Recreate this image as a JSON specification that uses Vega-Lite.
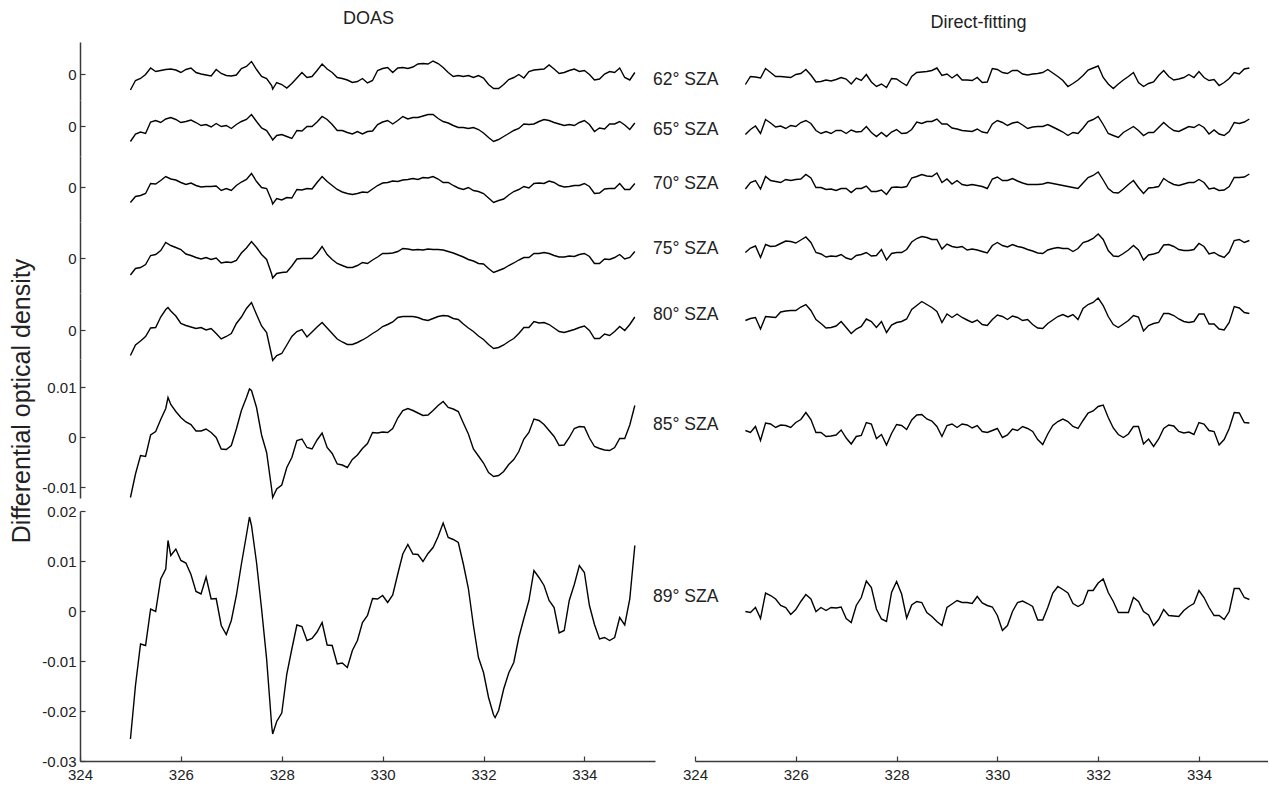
{
  "$schema": "https://vega.github.io/schema/vega-lite/v6.json",
  "background": "white",
  "padding": {"left": 9, "top": 10, "right": 0, "bottom": 0},
  "autosize": {"type": "pad"},
  "spacing": -3,
  "title": {"text": "Differential optical density", "orient": "left", "anchor": "middle", "fontSize": 25, "fontWeight": "normal", "color": "#222", "offset": 7, "dx": -5},
  "resolve": {"scale": {"x": "independent", "y": "independent"}},
  "config": {
    "font": "Liberation Sans",
    "view": {"stroke": null},
    "axis": {"domainColor": "#3a3a3a", "domainWidth": 1.5, "tickColor": "#3a3a3a", "tickWidth": 1.2, "tickSize": -5, "labelPadding": 9, "labelFontSize": 15, "labelColor": "#222", "grid": false, "title": null, "labelFont": "Liberation Sans", "labelFlush": false},
    "axisX": {"labelPadding": 11},
    "title": {"font": "Liberation Sans", "fontWeight": "normal", "color": "#222"}
  },
  "datasets": {
    "t": [
      {"x":325,"a62":-0.0032,"a65":-0.0031,"a70":-0.0031,"a75":-0.0034,"a80":-0.0051,"a85":-0.0121,"a89":-0.0256,"b62":-0.0021,"b65":-0.0017,"b70":-0.0004,"b75":0.0011,"b80":0.0019,"b85":0.0013,"b89":-0.0001},
      {"x":325.1,"a62":-0.0013,"a65":-0.0016,"a70":-0.0019,"a75":-0.0021,"a80":-0.0030,"a85":-0.0074,"a89":-0.0149,"b62":-0.0005,"b65":-0.0007,"b70":0.0009,"b75":0.0020,"b80":0.0023,"b85":0.0009,"b89":-0.0003},
      {"x":325.2,"a62":-0.0009,"a65":-0.0012,"a70":-0.0017,"a75":-0.0019,"a80":-0.0022,"a85":-0.0037,"a89":-0.0066,"b62":-0.0006,"b65":0,"b70":0.0013,"b75":0.0024,"b80":0.0025,"b85":0.0021,"b89":0.0007},
      {"x":325.3,"a62":-0.0001,"a65":-0.0015,"a70":-0.0013,"a75":-0.0013,"a80":-0.0013,"a85":-0.0039,"a89":-0.0069,"b62":-0.0008,"b65":-0.0015,"b70":-0.0004,"b75":0.0001,"b80":0.0002,"b85":-0.0007,"b89":-0.0015},
      {"x":325.4,"a62":0.0012,"a65":0.0008,"a70":0.0007,"a75":0.0005,"a80":0.0004,"a85":0.0004,"a89":0.0004,"b62":0.0011,"b65":0.0013,"b70":0.0021,"b75":0.0027,"b80":0.0027,"b85":0.0028,"b89":0.0036},
      {"x":325.5,"a62":0.0005,"a65":0.0011,"a70":0.0006,"a75":0.0007,"a80":0.0005,"a85":0.0011,"a89":-0.0001,"b62":0.0003,"b65":0.0006,"b70":0.0013,"b75":0.0023,"b80":0.0026,"b85":0.0026,"b89":0.0031},
      {"x":325.6,"a62":0.0007,"a65":0.0007,"a70":0.0013,"a75":0.0015,"a80":0.0026,"a85":0.0035,"a89":0.0064,"b62":-0.0005,"b65":-0.0002,"b70":0.0011,"b75":0.0024,"b80":0.0025,"b85":0.0019,"b89":0.0024},
      {"x":325.7,"a62":0.0009,"a65":0.0014,"a70":0.0021,"a75":0.0031,"a80":0.0041,"a85":0.0057,"a89":0.0084,"b62":-0.0005,"b65":0,"b70":0.0009,"b75":0.0029,"b80":0.0036,"b85":0.0024,"b89":0.0011},
      {"x":325.8,"a62":0.0010,"a65":0.0017,"a70":0.0016,"a75":0.0025,"a80":0.0038,"a85":0.0065,"a89":0.0111,"b62":-0.0006,"b65":-0.0005,"b70":0.0015,"b75":0.0034,"b80":0.0038,"b85":0.0023,"b89":0.0007},
      {"x":325.9,"a62":0.0008,"a65":0.0013,"a70":0.0014,"a75":0.0021,"a80":0.0028,"a85":0.0051,"a89":0.0124,"b62":-0.0007,"b65":0.0001,"b70":0.0013,"b75":0.0033,"b80":0.0039,"b85":0.0019,"b89":-0.0007},
      {"x":326,"a62":0.0003,"a65":0.0007,"a70":0.0009,"a75":0.0017,"a80":0.0013,"a85":0.0039,"a89":0.0101,"b62":-0.0001,"b65":-0.0001,"b70":0.0015,"b75":0.0030,"b80":0.0039,"b85":0.0029,"b89":0.0003},
      {"x":326.1,"a62":0.0009,"a65":0.0009,"a70":0.0005,"a75":0.0008,"a80":0.0009,"a85":0.0030,"a89":0.0096,"b62":0.0001,"b65":0.0007,"b70":0.0016,"b75":0.0036,"b80":0.0046,"b85":0.0035,"b89":0.0019},
      {"x":326.2,"a62":0.0012,"a65":0.0012,"a70":0.0008,"a75":0.0005,"a80":0.0006,"a85":0.0025,"a89":0.0073,"b62":0.0009,"b65":0.0011,"b70":0.0025,"b75":0.0042,"b80":0.0051,"b85":0.0049,"b89":0.0033},
      {"x":326.3,"a62":0.0003,"a65":0.0007,"a70":0.0003,"a75":0.0001,"a80":0.0003,"a85":0.0012,"a89":0.0039,"b62":-0.0002,"b65":0.0005,"b70":0.0018,"b75":0.0031,"b80":0.0039,"b85":0.0035,"b89":0.0024},
      {"x":326.4,"a62":0,"a65":0.0001,"a70":0,"a75":-0.0002,"a80":0.0005,"a85":0.0012,"a89":0.0034,"b62":-0.0016,"b65":-0.0009,"b70":-0.0001,"b75":0.0011,"b80":0.0021,"b85":0.0009,"b89":-0.0001},
      {"x":326.5,"a62":-0.0002,"a65":0.0003,"a70":0.0001,"a75":0.0001,"a80":0,"a85":0.0016,"a89":0.0068,"b62":-0.0015,"b65":-0.0015,"b70":-0.0001,"b75":0.0008,"b80":0.0013,"b85":0.0009,"b89":0.0007},
      {"x":326.6,"a62":-0.0004,"a65":-0.0002,"a70":0.0001,"a75":-0.0003,"a80":0.0003,"a85":0.0009,"a89":0.0024,"b62":-0.0012,"b65":-0.0011,"b70":-0.0005,"b75":0.0002,"b80":0.0004,"b85":0.0001,"b89":0.0001},
      {"x":326.7,"a62":0.0009,"a65":0.0005,"a70":0.0002,"a75":0,"a80":-0.0007,"a85":-0.0001,"a89":0.0025,"b62":-0.0014,"b65":-0.0015,"b70":-0.0004,"b75":0.0004,"b80":0.0005,"b85":0.0002,"b89":0.0007},
      {"x":326.8,"a62":0.0001,"a65":-0.0001,"a70":-0.0007,"a75":-0.0010,"a80":-0.0018,"a85":-0.0024,"a89":-0.0029,"b62":-0.0011,"b65":-0.0009,"b70":-0.0007,"b75":0.0003,"b80":0.0008,"b85":0.0004,"b89":0.0006},
      {"x":326.9,"a62":-0.0003,"a65":0.0001,"a70":-0.0003,"a75":-0.0008,"a80":-0.0013,"a85":-0.0025,"a89":-0.0047,"b62":-0.0007,"b65":-0.0009,"b70":-0.0003,"b75":0.0007,"b80":0.0017,"b85":0.0014,"b89":0.0008},
      {"x":327,"a62":-0.0004,"a65":-0.0005,"a70":-0.0007,"a75":-0.0009,"a80":-0.0007,"a85":-0.0017,"a89":-0.0019,"b62":-0.0010,"b65":-0.0015,"b70":-0.0003,"b75":0,"b80":0.0005,"b85":-0.0002,"b89":-0.0015},
      {"x":327.1,"a62":-0.0002,"a65":0.0003,"a70":0.0003,"a75":-0.0005,"a80":0.0013,"a85":0.0016,"a89":0.0031,"b62":-0.0020,"b65":-0.0008,"b70":-0.0011,"b75":-0.0003,"b80":-0.0007,"b85":-0.0014,"b89":-0.0023},
      {"x":327.2,"a62":0.0011,"a65":0.0009,"a70":0.0010,"a75":0.0010,"a80":0.0026,"a85":0.0053,"a89":0.0094,"b62":-0.0008,"b65":-0.0012,"b70":-0.0003,"b75":0.0005,"b80":0.0002,"b85":0.0001,"b89":0.0011},
      {"x":327.3,"a62":0.0015,"a65":0.0013,"a70":0.0015,"a75":0.0020,"a80":0.0043,"a85":0.0079,"a89":0.0152,"b62":-0.0013,"b65":-0.0011,"b70":-0.0003,"b75":0.0007,"b80":0.0007,"b85":0.0003,"b89":0.0027},
      {"x":327.4,"a62":0.0025,"a65":0.0023,"a70":0.0027,"a75":0.0033,"a80":0.0055,"a85":0.0093,"a89":0.0171,"b62":-0.0001,"b65":-0.0001,"b70":0.0002,"b75":0.0011,"b80":0.0022,"b85":0.0029,"b89":0.0060},
      {"x":327.5,"a62":0.0009,"a65":0.0009,"a70":0.0011,"a75":0.0021,"a80":0.0031,"a85":0.0059,"a89":0.0097,"b62":-0.0016,"b65":-0.0013,"b70":-0.0009,"b75":0.0004,"b80":0.0017,"b85":0.0026,"b89":0.0047},
      {"x":327.6,"a62":-0.0005,"a65":-0.0004,"a70":-0.0001,"a75":0.0007,"a80":0.0008,"a85":0.0004,"a89":0.0004,"b62":-0.0025,"b65":-0.0021,"b70":-0.0009,"b75":0.0005,"b80":0.0005,"b85":-0.0003,"b89":0.0004},
      {"x":327.7,"a62":-0.0009,"a65":-0.0009,"a70":-0.0003,"a75":-0.0003,"a80":-0.0005,"a85":-0.0031,"a89":-0.0096,"b62":-0.0020,"b65":-0.0013,"b70":-0.0006,"b75":0.0017,"b80":0.0017,"b85":0.0005,"b89":-0.0016},
      {"x":327.8,"a62":-0.0023,"a65":-0.0024,"a70":-0.0027,"a75":-0.0032,"a80":-0.0051,"a85":-0.0104,"a89":-0.0229,"b62":-0.0027,"b65":-0.0021,"b70":-0.0015,"b75":-0.0004,"b80":-0.0005,"b85":-0.0016,"b89":-0.0021},
      {"x":327.9,"a62":-0.0017,"a65":-0.0019,"a70":-0.0023,"a75":-0.0031,"a80":-0.0051,"a85":-0.0104,"a89":-0.0221,"b62":-0.0009,"b65":-0.0012,"b70":-0.0001,"b75":0.0009,"b80":0.0010,"b85":0.0007,"b89":0.0037},
      {"x":328,"a62":-0.0021,"a65":-0.0017,"a70":-0.0026,"a75":-0.0029,"a80":-0.0047,"a85":-0.0096,"a89":-0.0204,"b62":-0.0010,"b65":-0.0007,"b70":0,"b75":0.0011,"b80":0.0015,"b85":0.0025,"b89":0.0059},
      {"x":328.1,"a62":-0.0028,"a65":-0.0021,"a70":-0.0021,"a75":-0.0028,"a80":-0.0030,"a85":-0.0061,"a89":-0.0126,"b62":-0.0017,"b65":-0.0015,"b70":-0.0001,"b75":0.0011,"b80":0.0017,"b85":0.0023,"b89":0.0034},
      {"x":328.2,"a62":-0.0019,"a65":-0.0025,"a70":-0.0022,"a75":-0.0016,"a80":-0.0013,"a85":-0.0041,"a89":-0.0076,"b62":-0.0023,"b65":-0.0014,"b70":0.0001,"b75":0.0017,"b80":0.0022,"b85":0.0015,"b89":-0.0014},
      {"x":328.3,"a62":-0.0008,"a65":-0.0009,"a70":-0.0005,"a75":-0.0002,"a80":-0.0003,"a85":-0.0007,"a89":-0.0028,"b62":-0.0005,"b65":-0.0007,"b70":0.0018,"b75":0.0032,"b80":0.0041,"b85":0.0034,"b89":0.0012},
      {"x":328.4,"a62":0.0003,"a65":-0.0010,"a70":-0.0006,"a75":-0.0001,"a80":0.0001,"a85":-0.0004,"a89":-0.0031,"b62":0.0003,"b65":0.0008,"b70":0.0021,"b75":0.0039,"b80":0.0049,"b85":0.0044,"b89":0.0019},
      {"x":328.5,"a62":-0.0007,"a65":-0.0001,"a70":-0.0003,"a75":-0.0001,"a80":-0.0014,"a85":-0.0021,"a89":-0.0059,"b62":0.0004,"b65":0.0005,"b70":0.0025,"b75":0.0043,"b80":0.0057,"b85":0.0045,"b89":0.0017},
      {"x":328.6,"a62":-0.0005,"a65":-0.0001,"a70":-0.0004,"a75":-0.0001,"a80":-0.0004,"a85":-0.0024,"a89":-0.0055,"b62":0.0005,"b65":0.0009,"b70":0.0022,"b75":0.0041,"b80":0.0051,"b85":0.0036,"b89":-0.0003},
      {"x":328.7,"a62":0.0007,"a65":0.0008,"a70":0.0009,"a75":0.0009,"a80":0.0006,"a85":-0.0006,"a89":-0.0042,"b62":0.0007,"b65":0.0009,"b70":0.0021,"b75":0.0037,"b80":0.0045,"b85":0.0032,"b89":-0.0011},
      {"x":328.8,"a62":0.0020,"a65":0.0019,"a70":0.0021,"a75":0.0023,"a80":0.0015,"a85":0.0008,"a89":-0.0023,"b62":0.0012,"b65":0.0014,"b70":0.0028,"b75":0.0037,"b80":0.0037,"b85":0.0021,"b89":-0.0021},
      {"x":328.9,"a62":0.0010,"a65":0.0013,"a70":0.0011,"a75":0.0007,"a80":0.0004,"a85":-0.0021,"a89":-0.0068,"b62":-0.0003,"b65":0.0004,"b70":0.0009,"b75":0.0018,"b80":0.0015,"b85":0.0001,"b89":-0.0029},
      {"x":329,"a62":0.0003,"a65":0.0003,"a70":0.0003,"a75":-0.0003,"a80":-0.0007,"a85":-0.0033,"a89":-0.0069,"b62":0,"b65":0.0004,"b70":0.0016,"b75":0.0028,"b80":0.0032,"b85":0.0023,"b89":0.0007},
      {"x":329.1,"a62":-0.0007,"a65":-0.0009,"a70":-0.0005,"a75":-0.0011,"a80":-0.0018,"a85":-0.0054,"a89":-0.0106,"b62":-0.0008,"b65":-0.0004,"b70":0.0006,"b75":0.0023,"b80":0.0025,"b85":0.0026,"b89":0.0014},
      {"x":329.2,"a62":-0.0009,"a65":-0.0009,"a70":-0.0010,"a75":-0.0015,"a80":-0.0024,"a85":-0.0056,"a89":-0.0104,"b62":-0.0001,"b65":-0.0006,"b70":0.0013,"b75":0.0021,"b80":0.0032,"b85":0.0019,"b89":0.0021},
      {"x":329.3,"a62":-0.0012,"a65":-0.0013,"a70":-0.0013,"a75":-0.0019,"a80":-0.0029,"a85":-0.0061,"a89":-0.0113,"b62":-0.0012,"b65":-0.0009,"b70":0.0005,"b75":0.0023,"b80":0.0025,"b85":0.0026,"b89":0.0017},
      {"x":329.4,"a62":-0.0017,"a65":-0.0016,"a70":-0.0015,"a75":-0.0019,"a80":-0.0029,"a85":-0.0045,"a89":-0.0079,"b62":-0.0012,"b65":-0.0010,"b70":0.0003,"b75":0.0016,"b80":0.0020,"b85":0.0024,"b89":0.0017},
      {"x":329.5,"a62":-0.0015,"a65":-0.0011,"a70":-0.0013,"a75":-0.0015,"a80":-0.0025,"a85":-0.0036,"a89":-0.0059,"b62":-0.0013,"b65":-0.0011,"b70":0.0005,"b75":0.0018,"b80":0.0015,"b85":0.0018,"b89":0.0015},
      {"x":329.6,"a62":-0.0009,"a65":-0.0016,"a70":-0.0010,"a75":-0.0009,"a80":-0.0020,"a85":-0.0023,"a89":-0.0023,"b62":-0.0007,"b65":-0.0006,"b70":0.0003,"b75":0.0016,"b80":0.0020,"b85":0.0023,"b89":0.0029},
      {"x":329.7,"a62":-0.0018,"a65":-0.0011,"a70":-0.0011,"a75":-0.0011,"a80":-0.0014,"a85":-0.0013,"a89":-0.0009,"b62":-0.0017,"b65":-0.0012,"b70":0.0001,"b75":0.0013,"b80":0.0011,"b85":0.0011,"b89":0.0016},
      {"x":329.8,"a62":-0.0013,"a65":-0.0010,"a70":-0.0004,"a75":-0.0004,"a80":-0.0007,"a85":0.0009,"a89":0.0025,"b62":-0.0016,"b65":-0.0014,"b70":-0.0003,"b75":0.0010,"b80":0.0009,"b85":0.0009,"b89":0.0011},
      {"x":329.9,"a62":0.0007,"a65":0.0003,"a70":0.0003,"a75":0.0002,"a80":-0.0001,"a85":0.0008,"a89":0.0024,"b62":0.0011,"b65":0.0004,"b70":0.0016,"b75":0.0025,"b80":0.0021,"b85":0.0013,"b89":0.0008},
      {"x":330,"a62":0.0011,"a65":0.0008,"a70":0.0008,"a75":0.0009,"a80":0.0007,"a85":0.0010,"a89":0.0031,"b62":0.0009,"b65":0.0011,"b70":0.0020,"b75":0.0031,"b80":0.0030,"b85":0.0017,"b89":-0.0009},
      {"x":330.1,"a62":0.0013,"a65":0.0011,"a70":0.0009,"a75":0.0009,"a80":0.0011,"a85":0.0009,"a89":0.0017,"b62":0.0003,"b65":0.0007,"b70":0.0013,"b75":0.0025,"b80":0.0027,"b85":-0.0001,"b89":-0.0039},
      {"x":330.2,"a62":0.0003,"a65":0.0004,"a70":0.0012,"a75":0.0010,"a80":0.0016,"a85":0.0017,"a89":0.0032,"b62":0.0001,"b65":0.0001,"b70":0.0013,"b75":0.0022,"b80":0.0021,"b85":0.0004,"b89":-0.0029},
      {"x":330.3,"a62":0.0012,"a65":0.0011,"a70":0.0011,"a75":0.0013,"a80":0.0025,"a85":0.0038,"a89":0.0074,"b62":0.0007,"b65":0.0006,"b70":0.0017,"b75":0.0027,"b80":0.0028,"b85":0.0016,"b89":-0.0001},
      {"x":330.4,"a62":0.0013,"a65":0.0019,"a70":0.0014,"a75":0.0019,"a80":0.0027,"a85":0.0053,"a89":0.0114,"b62":0.0007,"b65":0.0008,"b70":0.0012,"b75":0.0023,"b80":0.0025,"b85":0.0013,"b89":0.0017},
      {"x":330.5,"a62":0.0011,"a65":0.0014,"a70":0.0015,"a75":0.0018,"a80":0.0027,"a85":0.0057,"a89":0.0133,"b62":0,"b65":0.0002,"b70":0.0008,"b75":0.0021,"b80":0.0019,"b85":0.0021,"b89":0.0020},
      {"x":330.6,"a62":0.0014,"a65":0.0017,"a70":0.0017,"a75":0.0016,"a80":0.0027,"a85":0.0053,"a89":0.0114,"b62":-0.0002,"b65":-0.0005,"b70":0.0005,"b75":0.0017,"b80":0.0021,"b85":0.0017,"b89":0.0015},
      {"x":330.7,"a62":0.0020,"a65":0.0017,"a70":0.0015,"a75":0.0017,"a80":0.0025,"a85":0.0048,"a89":0.0113,"b62":0,"b65":-0.0002,"b70":0.0005,"b75":0.0014,"b80":0.0011,"b85":0.0011,"b89":0.0009},
      {"x":330.8,"a62":0.0021,"a65":0.0020,"a70":0.0019,"a75":0.0016,"a80":0.0021,"a85":0.0043,"a89":0.0099,"b62":0.0001,"b65":-0.0001,"b70":0.0005,"b75":0.0010,"b80":0.0004,"b85":-0.0005,"b89":-0.0018},
      {"x":330.9,"a62":0.0020,"a65":0.0023,"a70":0.0018,"a75":0.0018,"a80":0.0019,"a85":0.0044,"a89":0.0115,"b62":0.0003,"b65":-0.0001,"b70":0.0006,"b75":0.0009,"b80":0.0003,"b85":-0.0015,"b89":-0.0018},
      {"x":331,"a62":0.0026,"a65":0.0023,"a70":0.0021,"a75":0.0017,"a80":0.0023,"a85":0.0053,"a89":0.0127,"b62":0.0009,"b65":0.0003,"b70":0.0009,"b75":0.0016,"b80":0.0013,"b85":0.0006,"b89":0.0007},
      {"x":331.1,"a62":0.0021,"a65":0.0015,"a70":0.0016,"a75":0.0017,"a80":0.0027,"a85":0.0063,"a89":0.0149,"b62":0.0002,"b65":-0.0002,"b70":0.0007,"b75":0.0019,"b80":0.0020,"b85":0.0023,"b89":0.0036},
      {"x":331.2,"a62":0.0013,"a65":0.0009,"a70":0.0009,"a75":0.0016,"a80":0.0029,"a85":0.0071,"a89":0.0176,"b62":-0.0005,"b65":-0.0007,"b70":0.0005,"b75":0.0021,"b80":0.0027,"b85":0.0031,"b89":0.0049},
      {"x":331.3,"a62":0.0003,"a65":0.0006,"a70":0.0009,"a75":0.0013,"a80":0.0028,"a85":0.0059,"a89":0.0147,"b62":-0.0013,"b65":-0.0012,"b70":0.0003,"b75":0.0019,"b80":0.0031,"b85":0.0036,"b89":0.0043},
      {"x":331.4,"a62":-0.0005,"a65":0.0001,"a70":0.0003,"a75":0.0010,"a80":0.0023,"a85":0.0056,"a89":0.0143,"b62":-0.0025,"b65":-0.0019,"b70":0.0001,"b75":0.0019,"b80":0.0026,"b85":0.0031,"b89":0.0036},
      {"x":331.5,"a62":-0.0003,"a65":-0.0003,"a70":-0.0002,"a75":0.0006,"a80":0.0021,"a85":0.0051,"a89":0.0137,"b62":-0.0019,"b65":-0.0013,"b70":-0.0001,"b75":0.0013,"b80":0.0031,"b85":0.0021,"b89":0.0015},
      {"x":331.6,"a62":-0.0005,"a65":-0.0003,"a70":-0.0005,"a75":0.0002,"a80":0.0012,"a85":0.0028,"a89":0.0094,"b62":-0.0012,"b65":-0.0015,"b70":-0.0003,"b75":0.0019,"b80":0.0021,"b85":0.0017,"b89":0.0009},
      {"x":331.7,"a62":-0.0003,"a65":-0.0005,"a70":-0.0001,"a75":-0.0003,"a80":0.0004,"a85":0.0006,"a89":0.0045,"b62":-0.0003,"b65":-0.0004,"b70":0.0008,"b75":0.0031,"b80":0.0043,"b85":0.0033,"b89":0.0015},
      {"x":331.8,"a62":-0.0007,"a65":-0.0003,"a70":-0.0007,"a75":-0.0006,"a80":-0.0003,"a85":-0.0024,"a89":-0.0029,"b62":0.0008,"b65":0.0009,"b70":0.0019,"b75":0.0034,"b80":0.0051,"b85":0.0048,"b89":0.0041},
      {"x":331.9,"a62":-0.0003,"a65":-0.0007,"a70":-0.0009,"a75":-0.0011,"a80":-0.0012,"a85":-0.0038,"a89":-0.0093,"b62":0.0012,"b65":0.0013,"b70":0.0023,"b75":0.0039,"b80":0.0055,"b85":0.0052,"b89":0.0041},
      {"x":332,"a62":-0.0008,"a65":-0.0014,"a70":-0.0013,"a75":-0.0012,"a80":-0.0019,"a85":-0.0052,"a89":-0.0123,"b62":0.0016,"b65":0.0019,"b70":0.0030,"b75":0.0048,"b80":0.0064,"b85":0.0061,"b89":0.0056},
      {"x":332.1,"a62":-0.0021,"a65":-0.0023,"a70":-0.0022,"a75":-0.0021,"a80":-0.0029,"a85":-0.0071,"a89":-0.0173,"b62":-0.0007,"b65":0.0003,"b70":0.0014,"b75":0.0037,"b80":0.0049,"b85":0.0064,"b89":0.0064},
      {"x":332.2,"a62":-0.0029,"a65":-0.0031,"a70":-0.0031,"a75":-0.0029,"a80":-0.0037,"a85":-0.0079,"a89":-0.0208,"b62":-0.0020,"b65":-0.0015,"b70":-0.0003,"b75":0.0015,"b80":0.0027,"b85":0.0039,"b89":0.0037},
      {"x":332.3,"a62":-0.0029,"a65":-0.0027,"a70":-0.0027,"a75":-0.0025,"a80":-0.0035,"a85":-0.0077,"a89":-0.0199,"b62":-0.0029,"b65":-0.0019,"b70":-0.0011,"b75":0.0004,"b80":0.0011,"b85":0.0018,"b89":0.0019},
      {"x":332.4,"a62":-0.0021,"a65":-0.0021,"a70":-0.0024,"a75":-0.0021,"a80":-0.0030,"a85":-0.0069,"a89":-0.0156,"b62":-0.0020,"b65":-0.0023,"b70":-0.0012,"b75":0.0003,"b80":0.0005,"b85":0.0005,"b89":-0.0003},
      {"x":332.5,"a62":-0.0011,"a65":-0.0015,"a70":-0.0016,"a75":-0.0015,"a80":-0.0023,"a85":-0.0055,"a89":-0.0124,"b62":-0.0012,"b65":-0.0013,"b70":-0.0004,"b75":0.0009,"b80":0.0012,"b85":-0.0001,"b89":-0.0003},
      {"x":332.6,"a62":-0.0007,"a65":-0.0009,"a70":-0.0009,"a75":-0.0010,"a80":-0.0017,"a85":-0.0045,"a89":-0.0103,"b62":-0.0005,"b65":-0.0007,"b70":0.0005,"b75":0.0016,"b80":0.0019,"b85":0.0006,"b89":-0.0003},
      {"x":332.7,"a62":-0.0001,"a65":-0.0005,"a70":-0.0005,"a75":-0.0004,"a80":-0.0007,"a85":-0.0029,"a89":-0.0053,"b62":0.0003,"b65":-0.0001,"b70":0.0013,"b75":0.0025,"b80":0.0029,"b85":0.0021,"b89":0.0027},
      {"x":332.8,"a62":-0.0008,"a65":0.0004,"a70":0.0001,"a75":0.0001,"a80":0.0005,"a85":-0.0004,"a89":-0.0015,"b62":-0.0017,"b65":-0.0009,"b70":-0.0001,"b75":0.0016,"b80":0.0026,"b85":0.0021,"b89":0.0019},
      {"x":332.9,"a62":0.0005,"a65":0.0003,"a70":-0.0002,"a75":0.0001,"a80":0.0005,"a85":0.0009,"a89":0.0021,"b62":-0.0025,"b65":-0.0019,"b70":-0.0013,"b75":-0.0004,"b80":-0.0002,"b85":-0.0014,"b89":-0.0001},
      {"x":333,"a62":0.0008,"a65":0.0004,"a70":0.0007,"a75":0.0009,"a80":0.0017,"a85":0.0036,"a89":0.0081,"b62":-0.0019,"b65":-0.0013,"b70":-0.0002,"b75":0.0006,"b80":0.0009,"b85":-0.0004,"b89":-0.0008},
      {"x":333.1,"a62":0.0009,"a65":0.0009,"a70":0.0008,"a75":0.0009,"a80":0.0014,"a85":0.0033,"a89":0.0067,"b62":-0.0016,"b65":-0.0013,"b70":-0.0001,"b75":0.0008,"b80":0.0013,"b85":-0.0019,"b89":-0.0029},
      {"x":333.2,"a62":0.0010,"a65":0.0013,"a70":0.0007,"a75":0.0011,"a80":0.0015,"a85":0.0025,"a89":0.0051,"b62":-0.0003,"b65":-0.0003,"b70":0.0001,"b75":0.0011,"b80":0.0015,"b85":-0.0004,"b89":-0.0017},
      {"x":333.3,"a62":0.0018,"a65":0.0011,"a70":0.0012,"a75":0.0009,"a80":0.0011,"a85":0.0013,"a89":0.0021,"b62":0.0007,"b65":0.0007,"b70":0.0017,"b75":0.0026,"b80":0.0033,"b85":0.0017,"b89":0.0003},
      {"x":333.4,"a62":0.0010,"a65":0.0007,"a70":0.0009,"a75":0.0005,"a80":0.0004,"a85":0.0001,"a89":0.0007,"b62":-0.0005,"b65":-0.0002,"b70":0.0010,"b75":0.0027,"b80":0.0033,"b85":0.0024,"b89":-0.0009},
      {"x":333.5,"a62":0.0001,"a65":0.0004,"a70":0.0003,"a75":0.0002,"a80":-0.0003,"a85":-0.0017,"a89":-0.0044,"b62":-0.0012,"b65":-0.0009,"b70":0.0005,"b75":0.0023,"b80":0.0029,"b85":0.0022,"b89":-0.0010},
      {"x":333.6,"a62":0.0003,"a65":0.0001,"a70":0,"a75":0.0002,"a80":-0.0005,"a85":-0.0016,"a89":-0.0039,"b62":-0.0010,"b65":-0.0011,"b70":0.0003,"b75":0.0017,"b80":0.0022,"b85":0.0011,"b89":-0.0011},
      {"x":333.7,"a62":0.0007,"a65":0.0003,"a70":0.0001,"a75":0.0004,"a80":-0.0002,"a85":-0.0001,"a89":0.0021,"b62":-0.0007,"b65":-0.0006,"b70":0.0006,"b75":0.0015,"b80":0.0017,"b85":0.0008,"b89":0.0001},
      {"x":333.8,"a62":0.0010,"a65":0.0001,"a70":0.0003,"a75":0.0003,"a80":0.0001,"a85":0.0017,"a89":0.0053,"b62":-0.0001,"b65":-0.0001,"b70":0.0009,"b75":0.0015,"b80":0.0015,"b85":0.0010,"b89":0.0009},
      {"x":333.9,"a62":0.0005,"a65":0.0007,"a70":0.0003,"a75":0.0007,"a80":0.0005,"a85":0.0021,"a89":0.0091,"b62":-0.0007,"b65":-0.0003,"b70":0.0009,"b75":0.0017,"b80":0.0017,"b85":0.0005,"b89":0.0015},
      {"x":334,"a62":0.0007,"a65":0.0011,"a70":0.0007,"a75":0.0009,"a80":0.0008,"a85":0.0020,"a89":0.0077,"b62":0.0005,"b65":0.0003,"b70":0.0015,"b75":0.0029,"b80":0.0032,"b85":0.0029,"b89":0.0041},
      {"x":334.1,"a62":-0.0001,"a65":0.0003,"a70":0.0001,"a75":0.0003,"a80":-0.0001,"a85":-0.0002,"a89":0.0011,"b62":-0.0007,"b65":-0.0003,"b70":0.0009,"b75":0.0023,"b80":0.0032,"b85":0.0026,"b89":0.0027},
      {"x":334.2,"a62":-0.0012,"a65":-0.0011,"a70":-0.0013,"a75":-0.0011,"a80":-0.0017,"a85":-0.0019,"a89":-0.0027,"b62":-0.0013,"b65":-0.0016,"b70":-0.0004,"b75":0.0008,"b80":0.0012,"b85":0.0013,"b89":0.0007},
      {"x":334.3,"a62":-0.0010,"a65":-0.0004,"a70":-0.0012,"a75":-0.0011,"a80":-0.0017,"a85":-0.0023,"a89":-0.0056,"b62":-0.0011,"b65":-0.0008,"b70":-0.0002,"b75":0.0011,"b80":0.0012,"b85":0.0011,"b89":-0.0009},
      {"x":334.4,"a62":0,"a65":-0.0006,"a70":-0.0004,"a75":-0.0002,"a80":-0.0008,"a85":-0.0026,"a89":-0.0053,"b62":-0.0023,"b65":-0.0016,"b70":-0.0007,"b75":0.0005,"b80":0.0002,"b85":-0.0016,"b89":-0.0009},
      {"x":334.5,"a62":0.0005,"a65":0.0004,"a70":-0.0003,"a75":-0.0003,"a80":-0.0011,"a85":-0.0027,"a89":-0.0059,"b62":-0.0017,"b65":-0.0019,"b70":-0.0006,"b75":0.0001,"b80":0,"b85":-0.0005,"b89":-0.0017},
      {"x":334.6,"a62":0.0003,"a65":0.0004,"a70":-0.0003,"a75":0.0001,"a80":-0.0003,"a85":-0.0021,"a89":-0.0053,"b62":-0.0009,"b65":-0.0011,"b70":0.0001,"b75":0.0012,"b80":0.0015,"b85":0.0017,"b89":-0.0001},
      {"x":334.7,"a62":0.0012,"a65":0.0009,"a70":0.0007,"a75":0.0007,"a80":0.0007,"a85":-0.0003,"a89":-0.0013,"b62":0.0003,"b65":0.0007,"b70":0.0019,"b75":0.0035,"b80":0.0047,"b85":0.0049,"b89":0.0045},
      {"x":334.8,"a62":-0.0007,"a65":0.0002,"a70":-0.0005,"a75":-0.0002,"a80":-0.0001,"a85":-0.0003,"a89":-0.0028,"b62":0,"b65":0.0005,"b70":0.0019,"b75":0.0037,"b80":0.0044,"b85":0.0048,"b89":0.0045},
      {"x":334.9,"a62":-0.0012,"a65":-0.0007,"a70":-0.0005,"a75":0.0001,"a80":0.0011,"a85":0.0024,"a89":0.0024,"b62":0.0010,"b65":0.0008,"b70":0.0020,"b75":0.0031,"b80":0.0035,"b85":0.0029,"b89":0.0027},
      {"x":335,"a62":0.0003,"a65":0.0006,"a70":0.0007,"a75":0.0013,"a80":0.0026,"a85":0.0063,"a89":0.0131,"b62":0.0012,"b65":0.0014,"b70":0.0026,"b75":0.0035,"b80":0.0033,"b85":0.0028,"b89":0.0023},
      {"x":325.745,"a80":0.0045,"a85":0.0079,"a89":0.0141},
      {"x":327.36,"a85":0.0096,"a89":0.0188},
      {"x":327.82,"a62":-0.0030,"a65":-0.0028,"a70":-0.0034,"a75":-0.0040,"a80":-0.0061,"a85":-0.0121,"a89":-0.0246},
      {"x":332.23,"a89":-0.0213}
    ]
  },
  "hconcat": [
    {
      "title": {"text": "DOAS", "fontSize": 18, "offset": 14, "anchor": "middle", "dx": 20},
      "bounds": "flush",
      "spacing": 0,
      "resolve": {"scale": {"x": "independent", "y": "independent"}},
      "vconcat": [
        {"width": 575, "height": 58, "data": {"name": "t"}, "mark": {"type": "line", "invalid": "filter", "color": "#000", "strokeWidth": 1.4},
         "encoding": {"x": {"field": "x", "type": "quantitative", "scale": {"domain": [324, 335.4], "nice": false, "zero": false}, "axis": null},
                      "y": {"field": "a62", "type": "quantitative", "scale": {"domain": [-0.0052, 0.0064], "nice": false, "zero": false}, "axis": {"values": [0], "labelExpr": "'' + datum.value"}}}},
        {"width": 575, "height": 56, "data": {"name": "t"}, "mark": {"type": "line", "invalid": "filter", "color": "#000", "strokeWidth": 1.4},
         "encoding": {"x": {"field": "x", "type": "quantitative", "scale": {"domain": [324, 335.4], "nice": false, "zero": false}, "axis": null},
                      "y": {"field": "a65", "type": "quantitative", "scale": {"domain": [-0.006, 0.0052], "nice": false, "zero": false}, "axis": {"values": [0], "labelExpr": "'' + datum.value"}}}},
        {"width": 575, "height": 66, "data": {"name": "t"}, "mark": {"type": "line", "invalid": "filter", "color": "#000", "strokeWidth": 1.4},
         "encoding": {"x": {"field": "x", "type": "quantitative", "scale": {"domain": [324, 335.4], "nice": false, "zero": false}, "axis": null},
                      "y": {"field": "a70", "type": "quantitative", "scale": {"domain": [-0.007, 0.0062], "nice": false, "zero": false}, "axis": {"values": [0], "labelExpr": "'' + datum.value"}}}},
        {"width": 575, "height": 71, "data": {"name": "t"}, "mark": {"type": "line", "invalid": "filter", "color": "#000", "strokeWidth": 1.4},
         "encoding": {"x": {"field": "x", "type": "quantitative", "scale": {"domain": [324, 335.4], "nice": false, "zero": false}, "axis": null},
                      "y": {"field": "a75", "type": "quantitative", "scale": {"domain": [-0.007, 0.0072], "nice": false, "zero": false}, "axis": {"values": [0], "labelExpr": "'' + datum.value"}}}},
        {"width": 575, "height": 66, "data": {"name": "t"}, "mark": {"type": "line", "invalid": "filter", "color": "#000", "strokeWidth": 1.4},
         "encoding": {"x": {"field": "x", "type": "quantitative", "scale": {"domain": [324, 335.4], "nice": false, "zero": false}, "axis": null},
                      "y": {"field": "a80", "type": "quantitative", "scale": {"domain": [-0.0058, 0.0074], "nice": false, "zero": false}, "axis": {"values": [0], "labelExpr": "'' + datum.value"}}}},
        {"width": 575, "height": 139, "data": {"name": "t"}, "mark": {"type": "line", "invalid": "filter", "color": "#000", "strokeWidth": 1.4},
         "encoding": {"x": {"field": "x", "type": "quantitative", "scale": {"domain": [324, 335.4], "nice": false, "zero": false}, "axis": null},
                      "y": {"field": "a85", "type": "quantitative", "scale": {"domain": [-0.0122, 0.0156], "nice": false, "zero": false}, "axis": {"values": [-0.01, 0, 0.01], "labelExpr": "'' + datum.value"}}}},
        {"width": 575, "height": 13, "data": {"values": []}, "mark": "point"},
        {"width": 575, "height": 250, "data": {"name": "t"}, "mark": {"type": "line", "invalid": "filter", "color": "#000", "strokeWidth": 1.4},
         "encoding": {"x": {"field": "x", "type": "quantitative", "scale": {"domain": [324, 335.4], "nice": false, "zero": false}, "axis": {"values": [324, 326, 328, 330, 332, 334], "format": "d"}},
                      "y": {"field": "a89", "type": "quantitative", "scale": {"domain": [-0.03, 0.02], "nice": false, "zero": false}, "axis": {"values": [-0.03, -0.02, -0.01, 0, 0.01, 0.02], "labelExpr": "'' + datum.value"}}}}
      ]
    },
    {
      "title": {"text": "Direct-fitting", "fontSize": 18, "offset": 10, "anchor": "middle", "dx": 18},
      "bounds": "flush",
      "spacing": 0,
      "resolve": {"scale": {"x": "independent", "y": "independent"}},
      "vconcat": [
        {"width": 573, "height": 58, "layer": [
          {"data": {"name": "t"}, "mark": {"type": "line", "invalid": "filter", "color": "#000", "strokeWidth": 1.4},
           "encoding": {"x": {"field": "x", "type": "quantitative", "scale": {"domain": [324, 335.37], "nice": false, "zero": false}, "axis": null},
                        "y": {"field": "b62", "type": "quantitative", "scale": {"domain": [-0.0052, 0.0064], "nice": false, "zero": false}, "axis": null}}},
          {"data": {"values": [{"s": "62° SZA"}]}, "mark": {"type": "text", "fontSize": 17.5, "color": "#222", "align": "center", "baseline": "middle"},
           "encoding": {"x": {"datum": 323.815, "type": "quantitative", "scale": {"domain": [324, 335.37], "nice": false, "zero": false}}, "y": {"datum": -0.0011, "type": "quantitative", "scale": {"domain": [-0.0052, 0.0064], "nice": false, "zero": false}}, "text": {"field": "s"}}}
        ]},
        {"width": 573, "height": 56, "layer": [
          {"data": {"name": "t"}, "mark": {"type": "line", "invalid": "filter", "color": "#000", "strokeWidth": 1.4},
           "encoding": {"x": {"field": "x", "type": "quantitative", "scale": {"domain": [324, 335.37], "nice": false, "zero": false}, "axis": null},
                        "y": {"field": "b65", "type": "quantitative", "scale": {"domain": [-0.006, 0.0052], "nice": false, "zero": false}, "axis": null}}},
          {"data": {"values": [{"s": "65° SZA"}]}, "mark": {"type": "text", "fontSize": 17.5, "color": "#222", "align": "center", "baseline": "middle"},
           "encoding": {"x": {"datum": 323.815, "type": "quantitative", "scale": {"domain": [324, 335.37], "nice": false, "zero": false}}, "y": {"datum": -0.0007, "type": "quantitative", "scale": {"domain": [-0.006, 0.0052], "nice": false, "zero": false}}, "text": {"field": "s"}}}
        ]},
        {"width": 573, "height": 66, "layer": [
          {"data": {"name": "t"}, "mark": {"type": "line", "invalid": "filter", "color": "#000", "strokeWidth": 1.4},
           "encoding": {"x": {"field": "x", "type": "quantitative", "scale": {"domain": [324, 335.37], "nice": false, "zero": false}, "axis": null},
                        "y": {"field": "b70", "type": "quantitative", "scale": {"domain": [-0.007, 0.0062], "nice": false, "zero": false}, "axis": null}}},
          {"data": {"values": [{"s": "70° SZA"}]}, "mark": {"type": "text", "fontSize": 17.5, "color": "#222", "align": "center", "baseline": "middle"},
           "encoding": {"x": {"datum": 323.815, "type": "quantitative", "scale": {"domain": [324, 335.37], "nice": false, "zero": false}}, "y": {"datum": 0.0006, "type": "quantitative", "scale": {"domain": [-0.007, 0.0062], "nice": false, "zero": false}}, "text": {"field": "s"}}}
        ]},
        {"width": 573, "height": 71, "layer": [
          {"data": {"name": "t"}, "mark": {"type": "line", "invalid": "filter", "color": "#000", "strokeWidth": 1.4},
           "encoding": {"x": {"field": "x", "type": "quantitative", "scale": {"domain": [324, 335.37], "nice": false, "zero": false}, "axis": null},
                        "y": {"field": "b75", "type": "quantitative", "scale": {"domain": [-0.007, 0.0072], "nice": false, "zero": false}, "axis": null}}},
          {"data": {"values": [{"s": "75° SZA"}]}, "mark": {"type": "text", "fontSize": 17.5, "color": "#222", "align": "center", "baseline": "middle"},
           "encoding": {"x": {"datum": 323.815, "type": "quantitative", "scale": {"domain": [324, 335.37], "nice": false, "zero": false}}, "y": {"datum": 0.0019, "type": "quantitative", "scale": {"domain": [-0.007, 0.0072], "nice": false, "zero": false}}, "text": {"field": "s"}}}
        ]},
        {"width": 573, "height": 66, "layer": [
          {"data": {"name": "t"}, "mark": {"type": "line", "invalid": "filter", "color": "#000", "strokeWidth": 1.4},
           "encoding": {"x": {"field": "x", "type": "quantitative", "scale": {"domain": [324, 335.37], "nice": false, "zero": false}, "axis": null},
                        "y": {"field": "b80", "type": "quantitative", "scale": {"domain": [-0.0058, 0.0074], "nice": false, "zero": false}, "axis": null}}},
          {"data": {"values": [{"s": "80° SZA"}]}, "mark": {"type": "text", "fontSize": 17.5, "color": "#222", "align": "center", "baseline": "middle"},
           "encoding": {"x": {"datum": 323.815, "type": "quantitative", "scale": {"domain": [324, 335.37], "nice": false, "zero": false}}, "y": {"datum": 0.0030, "type": "quantitative", "scale": {"domain": [-0.0058, 0.0074], "nice": false, "zero": false}}, "text": {"field": "s"}}}
        ]},
        {"width": 573, "height": 139, "layer": [
          {"data": {"name": "t"}, "mark": {"type": "line", "invalid": "filter", "color": "#000", "strokeWidth": 1.4},
           "encoding": {"x": {"field": "x", "type": "quantitative", "scale": {"domain": [324, 335.37], "nice": false, "zero": false}, "axis": null},
                        "y": {"field": "b85", "type": "quantitative", "scale": {"domain": [-0.0122, 0.0156], "nice": false, "zero": false}, "axis": null}}},
          {"data": {"values": [{"s": "85° SZA"}]}, "mark": {"type": "text", "fontSize": 17.5, "color": "#222", "align": "center", "baseline": "middle"},
           "encoding": {"x": {"datum": 323.815, "type": "quantitative", "scale": {"domain": [324, 335.37], "nice": false, "zero": false}}, "y": {"datum": 0.0024, "type": "quantitative", "scale": {"domain": [-0.0122, 0.0156], "nice": false, "zero": false}}, "text": {"field": "s"}}}
        ]},
        {"width": 573, "height": 13, "data": {"values": []}, "mark": "point"},
        {"width": 573, "height": 250, "layer": [
          {"data": {"name": "t"}, "mark": {"type": "line", "invalid": "filter", "color": "#000", "strokeWidth": 1.4},
           "encoding": {"x": {"field": "x", "type": "quantitative", "scale": {"domain": [324, 335.37], "nice": false, "zero": false}, "axis": {"values": [324, 326, 328, 330, 332, 334], "format": "d"}},
                        "y": {"field": "b89", "type": "quantitative", "scale": {"domain": [-0.03, 0.02], "nice": false, "zero": false}, "axis": null}}},
          {"data": {"values": [{"s": "89° SZA"}]}, "mark": {"type": "text", "fontSize": 17.5, "color": "#222", "align": "center", "baseline": "middle"},
           "encoding": {"x": {"datum": 323.815, "type": "quantitative", "scale": {"domain": [324, 335.37], "nice": false, "zero": false}}, "y": {"datum": 0.0029, "type": "quantitative", "scale": {"domain": [-0.03, 0.02], "nice": false, "zero": false}}, "text": {"field": "s"}}}
        ]}
      ]
    }
  ]
}
